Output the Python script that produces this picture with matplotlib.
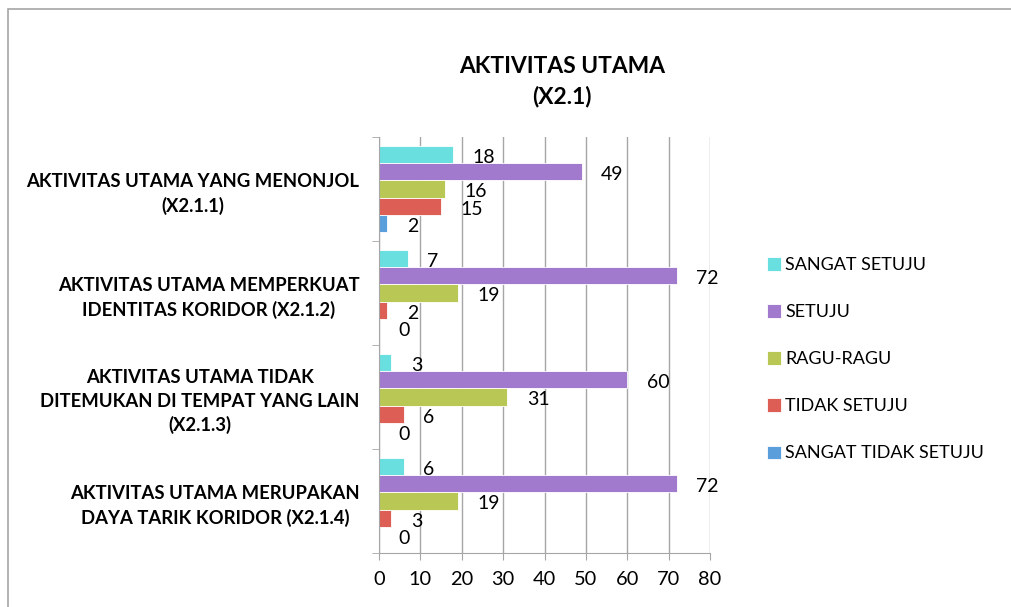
import numpy as np
from matplotlib import pyplot as plt
from matplotlib.patches import Rectangle

plt.rcParams['font.family'] = ['Lato', 'DejaVu Sans']

categories = ['AKTIVITAS UTAMA YANG MENONJOL\n(X2.1.1)',
              'AKTIVITAS UTAMA MEMPERKUAT\nIDENTITAS KORIDOR (X2.1.2)',
              'AKTIVITAS UTAMA TIDAK\nDITEMUKAN DI TEMPAT YANG LAIN\n(X2.1.3)',
              'AKTIVITAS UTAMA MERUPAKAN\nDAYA TARIK KORIDOR (X2.1.4)']
series = ['SANGAT SETUJU', 'SETUJU', 'RAGU-RAGU', 'TIDAK SETUJU', 'SANGAT TIDAK SETUJU']
sangat_setuju = [18, 7, 3, 6]
setuju = [49, 72, 60, 72]
ragu_ragu = [16, 19, 31, 19]
tidak_setuju = [15, 2, 6, 3]
sangat_tidak_setuju = [2, 0, 0, 0]
values = [sangat_setuju, setuju, ragu_ragu, tidak_setuju, sangat_tidak_setuju]
colors = ['#6ADFE0', '#A17ACD', '#B9C855', '#DC5E55', '#5A9FDC']

fig = plt.figure(figsize=(10.11, 6.07), dpi=100)
ax = fig.add_axes([0.3749, 0.089, 0.3274, 0.6853])

y = np.arange(len(categories))
h = 0.166
for i, (name, vals, c) in enumerate(zip(series, values, colors)):
    pos = y + (i - 2) * h
    ax.barh(pos, vals, height=h, color=c, label=name, edgecolor='white', linewidth=0.6)
    for p, v in zip(pos, vals):
        ax.annotate(str(v), (v, p), xytext=(14, -2), textcoords='offset points',
                    ha='left', va='center', fontsize=14)

ax.set_xlim(0, 80)
ax.set_xticks(np.arange(0, 81, 10))
ax.set_ylim(3.5, -0.5)
ax.set_yticks(y)
ax.set_yticklabels(categories, fontweight='bold', fontsize=13.3,
                   multialignment='center', linespacing=1.45)
ax.set_yticks(np.arange(-0.5, 4, 1), minor=True)
ax.tick_params(axis='y', which='major', length=0, pad=14)
ax.tick_params(axis='y', which='minor', length=5, color='#A6A6A6', direction='out')
ax.tick_params(axis='x', length=5, color='#A6A6A6', labelsize=14.4, pad=8)
ax.grid(axis='x', color='#A6A6A6', linewidth=1)
ax.set_axisbelow(True)
for s in ['top', 'right']:
    ax.spines[s].set_visible(False)
for s in ['left', 'bottom']:
    ax.spines[s].set_color('#A6A6A6')

fig.text(0.556, 0.865, 'AKTIVITAS UTAMA\n(X2.1)', ha='center', va='center',
         fontsize=16.4, fontweight='bold', linespacing=1.5)

fig.legend(loc='center left', bbox_to_anchor=(0.743, 0.408), frameon=False,
           fontsize=13, labelspacing=1.72, handlelength=0.75, handleheight=0.75,
           handletextpad=0.25)

fig.patches.append(Rectangle((8 / 1011, -0.1), 1.2, 1 - 9 / 607 + 0.1,
                             transform=fig.transFigure, fill=False,
                             edgecolor='#A6A6A6', linewidth=1.2))

fig.savefig('out.png', dpi=100)
